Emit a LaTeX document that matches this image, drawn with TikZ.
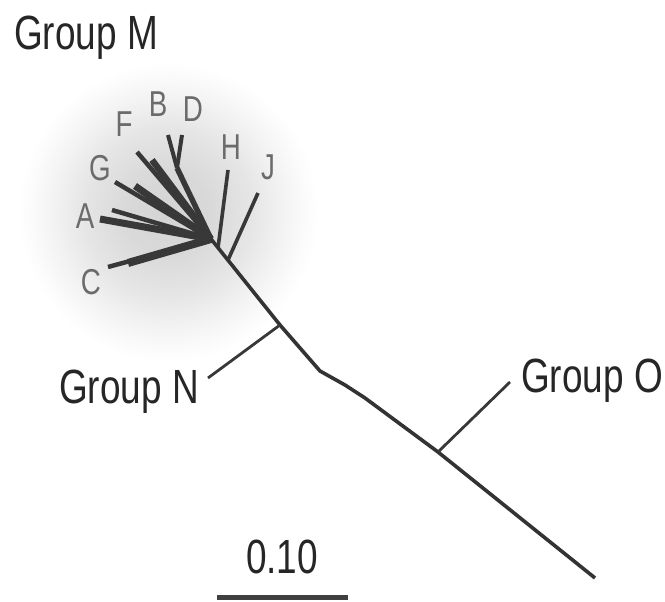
\documentclass[tikz,border=0pt]{standalone}
\usepackage{fontspec}
\setmainfont[FakeStretch=0.77]{Liberation Sans}
\pgfdeclareradialshading{glowsh}{\pgfpoint{0bp}{0bp}}{color(0bp)=(black!17); color(7bp)=(black!15); color(14bp)=(black!10); color(19bp)=(black!5); color(23bp)=(black!1.5); color(25bp)=(white); color(50bp)=(white)}
\begin{document}
\begin{tikzpicture}[x=1pt,y=-1pt,
  grp/.style={font=\fontsize{48}{50}\selectfont, text=black!85, inner sep=0pt, anchor=base west},
  leaflab/.style={font=\fontsize{36}{40}\selectfont, text=black!58, inner sep=0pt},
  br/.style={draw=black!78, line width=#1},
  trunk/.style={draw=black!80, line width=3.6pt, line join=round}]
\useasboundingbox (0,0) rectangle (665,602);
% glow
\shade[shading=glowsh] (168,212) circle [radius=150pt];
% coordinates
\coordinate (hub) at (211,239);
\coordinate (Ct) at (108,267); \coordinate (Cs) at (128,263);
\coordinate (At) at (100,219); \coordinate (A2) at (112,210);
\coordinate (Gt) at (115,182); \coordinate (Gs) at (135,186);
\coordinate (Ft) at (137,152); \coordinate (Fs) at (152,160);
\coordinate (Bt) at (168,135); \coordinate (Dt) at (182,135); \coordinate (BD) at (177,168);
\coordinate (Ht) at (228,170); \coordinate (Hb) at (218,248);
\coordinate (Jt) at (258,193); \coordinate (Jb) at (228,260);
\coordinate (Nj) at (280,325); \coordinate (Ne) at (208,378);
\coordinate (k1) at (320,371); \coordinate (k2) at (345,385); \coordinate (k3) at (365,398);
\coordinate (Oj) at (438,452); \coordinate (Oe) at (510,382);
\coordinate (tend) at (595,578);
\coordinate (sb1) at (217,597); \coordinate (sb2) at (348,597);
% M star
\draw[br=4.5pt] (Ct) -- (hub);
\draw[br=8pt] (Cs) -- (hub);
\draw[br=7pt] (At) -- (hub);
\draw[br=4.5pt] (A2) -- (hub);
\draw[br=4.5pt] (Gt) -- (hub);
\draw[br=7pt] (Gs) -- (hub);
\draw[br=4.5pt] (Ft) -- (hub);
\draw[br=6.5pt] (Fs) -- (hub);
\draw[br=4pt] (Bt) -- (BD);
\draw[br=4pt] (Dt) -- (BD);
\draw[br=5.5pt] (BD) -- (hub);
\draw[br=3.6pt] (Hb) -- (Ht);
\draw[br=3.6pt] (Jb) -- (Jt);
% trunk
\draw[trunk] (hub) -- (Nj) -- (k1) -- (k2) -- (k3) -- (Oj) -- (tend);
\draw[br=2.8pt] (Nj) -- (Ne);
\draw[br=2.8pt] (Oj) -- (Oe);
% scale bar
\draw[draw=black!75, line width=5pt] (sb1) -- (sb2);
% labels
\node[grp] (gM) at (14,50) {Group M};
\node[grp] (gN) at (59,403) {Group N};
\node[grp] (gO) at (521,392) {Group O};
\node[grp, anchor=base] (scale) at (282,573) {0.10};
\node[leaflab] (lA) at (85,216) {A};
\node[leaflab] (lC) at (91,282) {C};
\node[leaflab] (lG) at (100,168) {G};
\node[leaflab] (lF) at (124,124) {F};
\node[leaflab] (lB) at (158,104) {B};
\node[leaflab] (lD) at (193,109) {D};
\node[leaflab] (lH) at (231,147) {H};
\node[leaflab] (lJ) at (268,167) {J};
\end{tikzpicture}
\end{document}
